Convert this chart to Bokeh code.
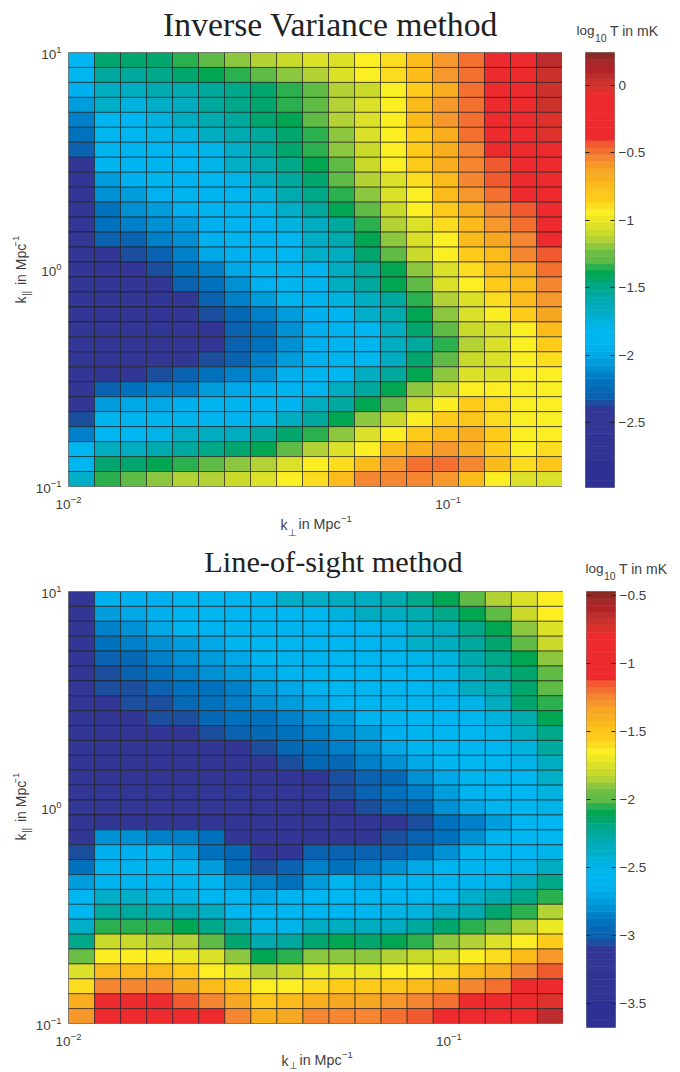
import math
import numpy as np
from bokeh.core.properties import value
from bokeh.embed import file_html
from bokeh.resources import INLINE
from bokeh.layouts import column, row
from bokeh.plotting import figure
from bokeh.models import (ColumnDataSource, LinearColorMapper, FixedTicker, LinearAxis, Range1d)
from bokeh.transform import transform

k_perp_range = (0.01, 0.2)
k_par_range = (0.1, 10.0)
x_tick_values = [0.01, 0.1]
y_tick_values = [0.1, 1.0, 10.0]

titles = ["Inverse Variance method", "Line-of-sight method"]

# log10 T in mK, rows listed from the top (k_par = 10) to the bottom (k_par = 0.1)
T_inverse_variance = [
    [-1.85,-1.45,-1.45,-1.42,-1.34,-1.27,-1.21,-1.14,-1.09,-1.06,-1.02,-0.95,-0.87,-0.76,-0.61,-0.49,-0.2,-0.2,0.07],
    [-1.85,-1.56,-1.56,-1.5,-1.45,-1.41,-1.34,-1.27,-1.21,-1.14,-1.06,-0.95,-0.87,-0.76,-0.61,-0.49,-0.2,-0.2,0.02],
    [-1.96,-1.65,-1.63,-1.6,-1.58,-1.54,-1.47,-1.43,-1.34,-1.27,-1.14,-1.09,-0.93,-0.82,-0.67,-0.49,-0.2,-0.2,0.02],
    [-2.05,-1.72,-1.75,-1.68,-1.63,-1.54,-1.47,-1.43,-1.34,-1.27,-1.14,-1.03,-0.95,-0.76,-0.61,-0.49,-0.2,-0.2,0.02],
    [-2.14,-1.85,-1.85,-1.76,-1.67,-1.6,-1.54,-1.46,-1.41,-1.27,-1.14,-1.06,-0.94,-0.76,-0.61,-0.49,-0.2,-0.2,-0.03],
    [-2.22,-1.85,-1.85,-1.8,-1.74,-1.67,-1.6,-1.54,-1.43,-1.35,-1.21,-1.06,-0.95,-0.82,-0.67,-0.49,-0.2,-0.2,-0.03],
    [-2.29,-1.88,-1.88,-1.85,-1.85,-1.8,-1.68,-1.55,-1.43,-1.34,-1.21,-1.09,-0.95,-0.82,-0.67,-0.54,-0.3,-0.2,-0.15],
    [-2.45,-1.9,-1.9,-1.88,-1.86,-1.8,-1.7,-1.6,-1.48,-1.41,-1.27,-1.09,-0.95,-0.82,-0.67,-0.54,-0.43,-0.2,-0.2],
    [-2.45,-2.03,-1.95,-1.9,-1.88,-1.87,-1.8,-1.65,-1.55,-1.43,-1.27,-1.14,-1.02,-0.87,-0.72,-0.56,-0.43,-0.2,-0.2],
    [-2.45,-2.12,-2.05,-1.93,-1.9,-1.88,-1.87,-1.75,-1.6,-1.48,-1.35,-1.21,-1.06,-0.95,-0.76,-0.61,-0.49,-0.2,-0.2],
    [-2.45,-2.19,-2.1,-2.03,-1.93,-1.9,-1.88,-1.82,-1.68,-1.56,-1.41,-1.27,-1.09,-0.95,-0.82,-0.67,-0.56,-0.43,-0.2],
    [-2.45,-2.22,-2.17,-2.1,-2.04,-1.93,-1.88,-1.88,-1.76,-1.64,-1.54,-1.35,-1.14,-1.03,-0.87,-0.72,-0.58,-0.49,-0.2],
    [-2.45,-2.28,-2.29,-2.16,-2.11,-1.95,-1.9,-1.88,-1.86,-1.68,-1.57,-1.41,-1.21,-1.06,-0.95,-0.76,-0.66,-0.53,-0.2],
    [-2.45,-2.42,-2.33,-2.28,-2.15,-2.02,-1.93,-1.9,-1.87,-1.72,-1.63,-1.46,-1.27,-1.09,-0.95,-0.82,-0.72,-0.56,-0.42],
    [-2.45,-2.45,-2.42,-2.34,-2.22,-2.14,-2.0,-1.92,-1.88,-1.88,-1.65,-1.54,-1.41,-1.21,-1.06,-0.87,-0.76,-0.67,-0.49],
    [-2.45,-2.45,-2.45,-2.42,-2.29,-2.22,-2.1,-1.96,-1.9,-1.88,-1.65,-1.56,-1.41,-1.27,-1.06,-0.95,-0.82,-0.72,-0.56],
    [-2.45,-2.45,-2.45,-2.45,-2.42,-2.28,-2.15,-2.03,-1.92,-1.9,-1.76,-1.65,-1.54,-1.35,-1.14,-1.03,-0.87,-0.76,-0.61],
    [-2.45,-2.45,-2.45,-2.45,-2.43,-2.33,-2.27,-2.14,-2.04,-1.95,-1.88,-1.68,-1.58,-1.41,-1.21,-1.06,-0.95,-0.82,-0.66],
    [-2.45,-2.45,-2.45,-2.45,-2.45,-2.42,-2.28,-2.22,-2.08,-1.96,-1.9,-1.85,-1.62,-1.46,-1.27,-1.09,-1.03,-0.95,-0.72],
    [-2.45,-2.45,-2.45,-2.45,-2.45,-2.42,-2.28,-2.22,-2.1,-1.96,-1.9,-1.87,-1.65,-1.54,-1.35,-1.14,-1.06,-0.95,-0.82],
    [-2.45,-2.45,-2.45,-2.45,-2.45,-2.33,-2.29,-2.17,-2.05,-1.94,-1.9,-1.85,-1.65,-1.43,-1.27,-1.09,-1.06,-0.95,-0.87],
    [-2.44,-2.44,-2.44,-2.33,-2.28,-2.22,-2.16,-2.1,-1.94,-1.9,-1.85,-1.64,-1.54,-1.41,-1.21,-1.06,-1.03,-0.95,-0.95],
    [-2.44,-2.28,-2.22,-2.16,-2.14,-2.07,-2.02,-1.93,-1.9,-1.88,-1.65,-1.54,-1.41,-1.21,-1.09,-0.95,-0.95,-0.95,-0.95],
    [-2.44,-2.05,-2.02,-2.02,-1.95,-1.92,-1.92,-1.9,-1.88,-1.66,-1.54,-1.41,-1.27,-1.09,-0.95,-0.82,-0.87,-0.95,-0.95],
    [-2.34,-1.88,-1.88,-1.88,-1.88,-1.88,-1.88,-1.8,-1.62,-1.55,-1.41,-1.21,-1.09,-0.95,-0.82,-0.79,-0.87,-0.95,-0.95],
    [-2.14,-1.85,-1.85,-1.78,-1.68,-1.65,-1.62,-1.55,-1.46,-1.35,-1.21,-1.06,-0.95,-0.82,-0.72,-0.67,-0.82,-0.95,-0.95],
    [-1.85,-1.65,-1.62,-1.6,-1.55,-1.47,-1.43,-1.41,-1.27,-1.14,-1.02,-0.95,-0.76,-0.67,-0.61,-0.67,-0.82,-0.95,-0.87],
    [-1.85,-1.45,-1.45,-1.41,-1.34,-1.27,-1.21,-1.14,-1.06,-0.95,-0.87,-0.72,-0.61,-0.49,-0.47,-0.56,-0.76,-0.87,-0.79],
    [-1.72,-1.35,-1.28,-1.21,-1.14,-1.14,-1.09,-1.02,-0.95,-0.87,-0.72,-0.56,-0.56,-0.53,-0.61,-0.76,-0.95,-1.06,-1.02],
]

T_line_of_sight = [
    [-3.16,-2.65,-2.63,-2.63,-2.57,-2.57,-2.57,-2.58,-2.4,-2.39,-2.36,-2.33,-2.29,-2.2,-2.12,-1.98,-1.85,-1.77,-1.66],
    [-3.16,-2.74,-2.72,-2.65,-2.6,-2.57,-2.57,-2.57,-2.57,-2.57,-2.45,-2.37,-2.33,-2.3,-2.19,-2.12,-1.98,-1.8,-1.67],
    [-3.16,-2.86,-2.8,-2.72,-2.62,-2.58,-2.58,-2.58,-2.58,-2.57,-2.55,-2.55,-2.52,-2.38,-2.33,-2.18,-2.12,-1.92,-1.77],
    [-3.16,-2.92,-2.86,-2.8,-2.73,-2.72,-2.62,-2.57,-2.57,-2.57,-2.57,-2.56,-2.48,-2.4,-2.34,-2.23,-2.14,-1.98,-1.8],
    [-3.16,-2.98,-2.93,-2.86,-2.82,-2.75,-2.72,-2.62,-2.58,-2.6,-2.57,-2.57,-2.57,-2.51,-2.43,-2.3,-2.18,-2.12,-1.92],
    [-3.16,-3.05,-2.98,-2.91,-2.86,-2.8,-2.77,-2.71,-2.62,-2.58,-2.57,-2.57,-2.57,-2.55,-2.48,-2.33,-2.26,-2.14,-1.98],
    [-3.16,-3.05,-3.04,-2.98,-2.92,-2.88,-2.84,-2.76,-2.7,-2.62,-2.57,-2.57,-2.57,-2.56,-2.5,-2.36,-2.3,-2.14,-1.98],
    [-3.16,-3.13,-3.03,-3.03,-2.97,-2.91,-2.85,-2.81,-2.74,-2.68,-2.6,-2.57,-2.57,-2.57,-2.57,-2.51,-2.34,-2.17,-2.06],
    [-3.16,-3.16,-3.13,-3.04,-3.03,-2.96,-2.9,-2.9,-2.85,-2.8,-2.75,-2.62,-2.58,-2.57,-2.57,-2.57,-2.44,-2.3,-2.12],
    [-3.16,-3.16,-3.16,-3.16,-3.14,-3.04,-2.99,-2.97,-2.9,-2.85,-2.81,-2.75,-2.63,-2.58,-2.57,-2.57,-2.52,-2.33,-2.19],
    [-3.16,-3.16,-3.16,-3.16,-3.16,-3.14,-3.13,-3.04,-2.96,-2.91,-2.87,-2.79,-2.7,-2.6,-2.57,-2.57,-2.57,-2.43,-2.26],
    [-3.16,-3.16,-3.16,-3.16,-3.16,-3.16,-3.16,-3.13,-3.04,-2.96,-2.93,-2.87,-2.8,-2.7,-2.6,-2.57,-2.55,-2.5,-2.34],
    [-3.16,-3.16,-3.16,-3.16,-3.16,-3.16,-3.16,-3.16,-3.16,-3.16,-3.04,-3.0,-2.93,-2.82,-2.72,-2.62,-2.57,-2.57,-2.4],
    [-3.16,-3.16,-3.16,-3.16,-3.16,-3.16,-3.16,-3.16,-3.16,-3.16,-3.04,-2.99,-2.92,-2.86,-2.76,-2.62,-2.57,-2.57,-2.44],
    [-3.16,-3.16,-3.16,-3.16,-3.16,-3.16,-3.16,-3.16,-3.16,-3.16,-3.14,-3.04,-2.98,-2.93,-2.82,-2.72,-2.6,-2.57,-2.5],
    [-3.16,-3.16,-3.16,-3.16,-3.16,-3.16,-3.16,-3.16,-3.16,-3.16,-3.16,-3.16,-3.14,-3.04,-2.92,-2.86,-2.75,-2.6,-2.57],
    [-3.16,-2.8,-2.8,-2.87,-2.86,-2.92,-3.14,-3.16,-3.16,-3.16,-3.16,-3.14,-3.03,-2.98,-2.92,-2.81,-2.62,-2.57,-2.57],
    [-3.04,-2.63,-2.63,-2.62,-2.74,-2.88,-2.97,-3.14,-3.14,-2.98,-2.98,-2.98,-2.98,-2.9,-2.82,-2.62,-2.57,-2.57,-2.49],
    [-2.9,-2.6,-2.6,-2.6,-2.62,-2.76,-2.88,-3.04,-2.98,-2.87,-2.88,-2.87,-2.82,-2.72,-2.62,-2.58,-2.57,-2.5,-2.37],
    [-2.75,-2.58,-2.6,-2.58,-2.58,-2.6,-2.74,-2.87,-2.88,-2.76,-2.6,-2.7,-2.62,-2.58,-2.57,-2.58,-2.5,-2.37,-2.19],
    [-2.57,-2.4,-2.4,-2.44,-2.52,-2.57,-2.57,-2.7,-2.6,-2.57,-2.57,-2.57,-2.57,-2.57,-2.57,-2.38,-2.31,-2.19,-2.06],
    [-2.57,-2.25,-2.25,-2.3,-2.3,-2.37,-2.57,-2.57,-2.57,-2.57,-2.57,-2.57,-2.5,-2.44,-2.37,-2.3,-2.14,-2.06,-1.85],
    [-2.38,-2.06,-2.06,-2.06,-2.12,-2.19,-2.31,-2.5,-2.52,-2.37,-2.37,-2.37,-2.37,-2.27,-2.14,-2.06,-1.98,-1.85,-1.72],
    [-2.18,-1.8,-1.8,-1.85,-1.84,-1.98,-2.14,-2.32,-2.27,-2.14,-2.12,-2.14,-2.12,-2.05,-1.92,-1.85,-1.77,-1.66,-1.53],
    [-1.97,-1.66,-1.66,-1.67,-1.72,-1.76,-1.92,-2.12,-2.06,-1.92,-1.92,-1.92,-1.85,-1.8,-1.76,-1.66,-1.58,-1.47,-1.32],
    [-1.77,-1.47,-1.47,-1.47,-1.53,-1.65,-1.72,-1.85,-1.8,-1.72,-1.72,-1.72,-1.67,-1.66,-1.58,-1.47,-1.38,-1.27,-1.14],
    [-1.59,-1.27,-1.27,-1.27,-1.33,-1.43,-1.53,-1.66,-1.66,-1.58,-1.53,-1.53,-1.48,-1.43,-1.38,-1.27,-1.22,-0.9,-0.9],
    [-1.38,-0.9,-0.9,-0.9,-1.14,-1.25,-1.33,-1.5,-1.45,-1.38,-1.33,-1.33,-1.28,-1.25,-1.2,-0.9,-0.9,-0.9,-0.76],
    [-1.32,-0.9,-0.9,-0.9,-0.9,-0.9,-1.25,-1.38,-1.33,-1.25,-1.25,-1.25,-1.21,-1.14,-0.9,-0.9,-0.9,-0.9,-0.63],
]

colorbar_limits = [(-2.98, 0.244), (-3.68, -0.47)]
colorbar_ticks = [[-2.5, -2, -1.5, -1, -0.5, 0], [-3.5, -3, -2.5, -2, -1.5, -1, -0.5]]

palette = (
    ["#2e3192"] * 4 + ["#303492"] * 4 + ["#323694"] * 4 +
    ["#1b4f9e", "#0b62b0", "#0569b6", "#0071bc", "#0080c8", "#0090d4", "#009ddc", "#00a8e8",
     "#00b0ef", "#00b4f0", "#00b6f0", "#00b4e8", "#00b2de", "#00aec8", "#00acc0", "#00abb0",
     "#00a99d", "#00a88a", "#00a66e", "#00a651", "#2bb04f", "#5fba46", "#6abd45", "#8dc63f",
     "#b2d235", "#c9da2a", "#dbe029", "#ece824", "#fbee23", "#fbdc1e", "#ffcb1b", "#fdc61b",
     "#fbbc1b", "#f9ae1f", "#f7a823", "#f7982c", "#f58732", "#f37030", "#f15a2e"] +
    ["#ed2a2e"] * 7 +
    ["#dc322b", "#cd312b", "#be2d2d", "#b02428", "#a5282a", "#8b2a23"]
)

TEXT = "#404040"
SANS = "Liberation Sans"
SERIF = "Liberation Serif"


def make_map(values, limits, frame_w, frame_h, top, bottom_border):
    n_rows, n_cols = len(values), len(values[0])
    xe = np.geomspace(k_perp_range[0], k_perp_range[1], n_cols + 1)
    ye = np.geomspace(k_par_range[1], k_par_range[0], n_rows + 1)
    xx, yy = np.meshgrid(np.arange(n_cols), np.arange(n_rows))
    src = ColumnDataSource(dict(
        left=xe[xx.ravel()], right=xe[xx.ravel() + 1],
        top=ye[yy.ravel()], bottom=ye[yy.ravel() + 1],
        value=np.array(values).ravel(),
    ))
    mapper = LinearColorMapper(palette=palette, low=limits[0], high=limits[1])
    p = figure(x_axis_type="log", y_axis_type="log", x_range=k_perp_range, y_range=k_par_range,
               frame_width=frame_w, frame_height=frame_h, min_border_left=68, min_border_right=0,
               min_border_top=top, min_border_bottom=bottom_border,
               output_backend="svg", toolbar_location=None)
    p.quad(left="left", right="right", top="top", bottom="bottom", source=src,
           fill_color=transform("value", mapper), line_color="#1c1c1c", line_alpha=0.7, line_width=0.9)
    p.grid.visible = False
    p.outline_line_color = "#aaaaaa"
    p.outline_line_width = 1
    for ax, ticks, standoff in ((p.xaxis[0], x_tick_values, 3), (p.yaxis[0], y_tick_values, 1)):
        ax.ticker = FixedTicker(ticks=ticks)
        ax.major_tick_line_color = None
        ax.minor_tick_line_color = None
        ax.axis_line_color = None
        ax.major_label_text_font = SANS
        ax.major_label_text_font_size = "13.5px"
        ax.major_label_text_color = TEXT
        ax.major_label_standoff = standoff
    return p


def make_colorbar(limits, ticks, frame_h, top, bottom_border, right_border):
    low, high = limits
    n = len(palette)
    edges = low + (high - low) * np.arange(n + 1) / n
    c = figure(x_range=Range1d(0, 1), y_range=Range1d(low, high), y_axis_location="right",
               frame_width=29, frame_height=frame_h, min_border_left=23, min_border_right=right_border,
               min_border_top=top, min_border_bottom=bottom_border,
               output_backend="svg", toolbar_location=None)
    c.quad(left=0, right=1, bottom=edges[:-1], top=edges[1:], fill_color=palette,
           line_color=palette, line_width=0.6)
    c.grid.visible = False
    c.xaxis.visible = False
    c.outline_line_color = "#888888"
    ax = c.yaxis[0]
    ax.ticker = FixedTicker(ticks=ticks)
    ax.major_label_overrides = {t: ("0" if t == 0 else f"{t:g}".replace("-", "\u2212")) for t in ticks}
    ax.major_tick_in = 4
    ax.major_tick_out = 0
    ax.major_tick_line_color = "#222222"
    ax.minor_tick_line_color = None
    ax.axis_line_color = None
    ax.major_label_text_font = SANS
    ax.major_label_text_font_size = "13.5px"
    ax.major_label_text_color = TEXT
    ax.major_label_standoff = 4
    left_ax = LinearAxis(ticker=FixedTicker(ticks=ticks), major_tick_in=4, major_tick_out=0,
                         major_tick_line_color="#222222", minor_tick_line_color=None,
                         axis_line_color=None, major_label_text_color=None, major_label_standoff=0)
    c.add_layout(left_ax, "left")
    return c


p1 = make_map(T_inverse_variance, colorbar_limits[0], 494, 434, 52, 59)
c1 = make_colorbar(colorbar_limits[0], colorbar_ticks[0], 435, 52, 58, 66)
p2 = make_map(T_line_of_sight, colorbar_limits[1], 495, 432, 46, 49)
c2 = make_colorbar(colorbar_limits[1], colorbar_ticks[1], 436, 44, 47, 65)

# Transparent page-sized layer that carries the titles and the rich axis labels
PAGE_W, PAGE_H = 680, 1072
layer = figure(width=PAGE_W, height=PAGE_H, x_range=(0, PAGE_W), y_range=(PAGE_H, 0),
               x_axis_location=None, y_axis_location=None, min_border=0,
               background_fill_color=None, border_fill_color=None, outline_line_color=None,
               output_backend="svg", toolbar_location=None, margin=(-PAGE_H, 0, 0, 0))
layer.grid.visible = False

BASE_SHIFT = 0.35  # the layer draws text this fraction of its size below the given baseline


def put(x, y, text, size, font=SANS, color=TEXT, align="left", angle=0.0):
    if angle:
        x -= BASE_SHIFT * size
    else:
        y -= BASE_SHIFT * size
    layer.text(x=[x], y=[y], text=[text], text_font=value(font), text_font_size=value(f"{size}px"),
               text_color=color, text_align=align, text_baseline="alphabetic", angle=angle)


def x_label(x0, yb, sub_drop=6.5):
    put(x0, yb, "k", 14)
    put(x0 + 7.3, yb + sub_drop, "\u22a5", 10)
    put(x0 + 18, yb, "in Mpc", 14.3)
    put(x0 + 60.5, yb - 7, "\u22121", 9.5)


def y_label(xb, y0):
    rot = math.pi / 2
    put(xb, y0, "k", 14, angle=rot)
    put(xb + 4, y0 - 7.5, "||", 10, angle=rot)
    put(xb, y0 - 18.5, "in Mpc", 14, angle=rot)
    put(xb - 6, y0 - 57, "\u22121", 9.5, angle=rot)


def cb_label(px, py):
    put(px, py, "log", 13.5)
    put(px + 18.5, py + 6, "10", 10.5)
    put(px + 33.5, py, "T in mK", 14)


put(330, 36, titles[0], 33.7, font=SERIF, color="#222222", align="center")
put(333, 572, titles[1], 30.3, font=SERIF, color="#222222", align="center")
x_label(280, 529)
x_label(281, 1065, sub_drop=3.5)
y_label(25, 303)
y_label(25, 840)
cb_label(576, 35)
cb_label(585, 573)

page = column(row(p1, c1), row(p2, c2), layer)
open("out.html", "w").write(file_html(page, INLINE))
